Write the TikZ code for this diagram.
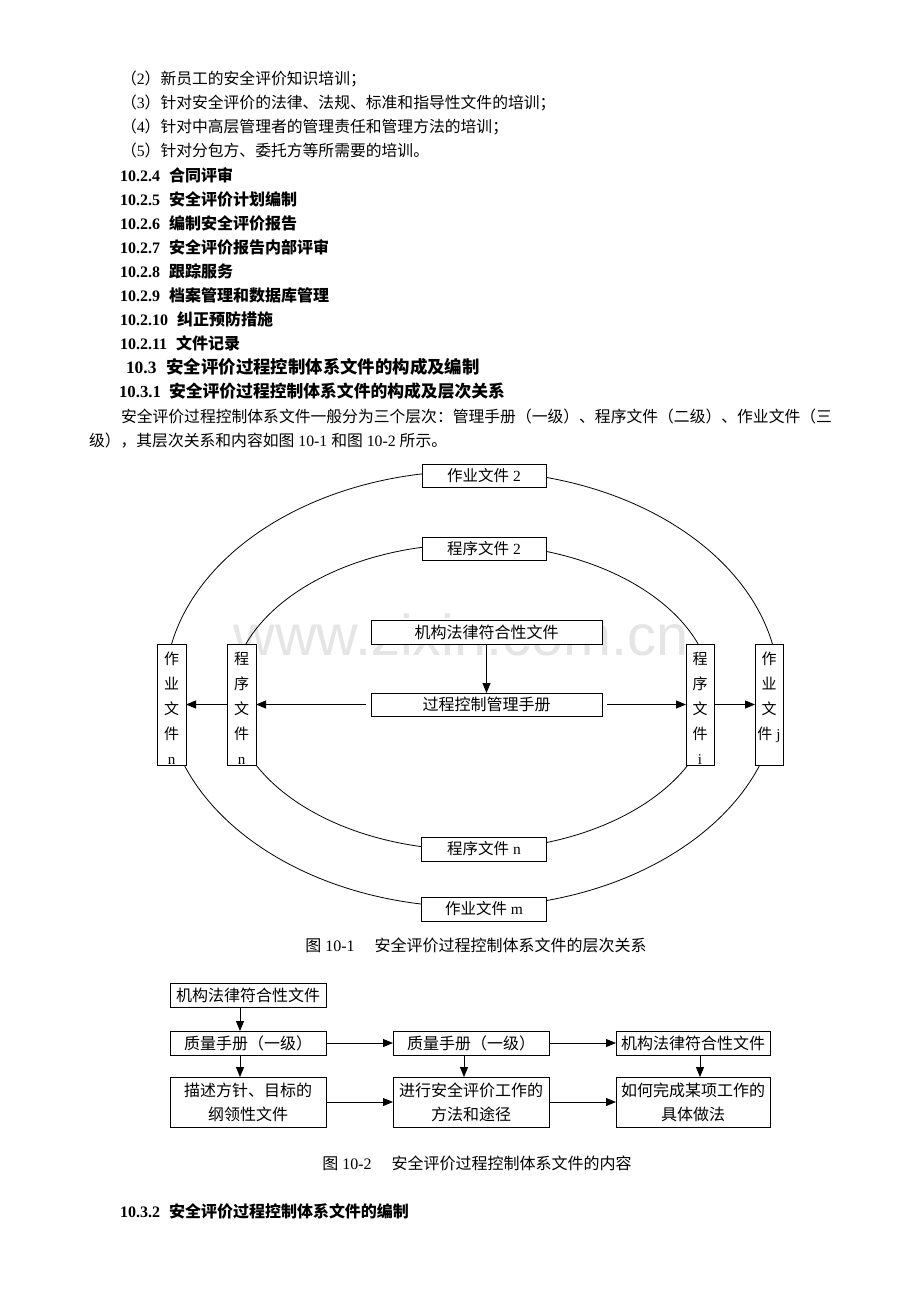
\documentclass[tikz,border=0pt]{standalone}
\usepackage{fontspec}
\setmainfont{Liberation Serif}
\newfontfamily\cjk{Noto Sans CJK SC}
\newfontfamily\wmfont{Liberation Sans}
\usetikzlibrary{arrows.meta}
\newcommand\C[1]{{\cjk #1}}
\newcommand\topstrut{\rule{0pt}{19.5pt}}
\begin{document}
\begin{tikzpicture}[x=1pt,y=-1pt,
  every node/.style={inner sep=0pt, outer sep=0pt},
  body/.style={anchor=base west, font=\fontsize{15.8}{18}\selectfont},
  head/.style={anchor=base west, font=\fontsize{16}{18}\selectfont\bfseries},
  bighead/.style={anchor=base west, font=\fontsize{17.4}{20}\selectfont\bfseries},
  box/.style={draw, fill=white, line width=0.8pt, font=\fontsize{15.5}{18}\selectfont, align=center},
  boxb/.style={draw, fill=white, line width=0.8pt, font=\fontsize{16}{24}\selectfont, align=center, minimum height=24pt},
  vbox/.style={draw, fill=white, line width=0.8pt, font=\fontsize{15}{25}\selectfont, align=center, minimum height=121pt},
  arr/.style={line width=0.9pt, -{Triangle[length=10pt,width=8pt]}},
  curve/.style={line width=0.8pt},
  caption/.style={anchor=base, font=\fontsize{16}{18}\selectfont}]
\useasboundingbox (0,0) rectangle (920,1302);
\fill[white] (0,0) rectangle (920,1302);

% ---- body text ----
\node[body] (l2) at (121,84) {\C{（}2\C{）新员工的安全评价知识培训；}};
\node[body] (l3) at (121,108) {\C{（}3\C{）针对安全评价的法律、法规、标准和指导性文件的培训；}};
\node[body] (l4) at (121,132) {\C{（}4\C{）针对中高层管理者的管理责任和管理方法的培训；}};
\node[body] (l5) at (121,156) {\C{（}5\C{）针对分包方、委托方等所需要的培训。}};
\node[head] (h4) at (120,181) {10.2.4\hspace{9pt}\C{合同评审}};
\node[head] (h5) at (120,205) {10.2.5\hspace{9pt}\C{安全评价计划编制}};
\node[head] (h6) at (120,229) {10.2.6\hspace{9pt}\C{编制安全评价报告}};
\node[head] (h7) at (120,253) {10.2.7\hspace{9pt}\C{安全评价报告内部评审}};
\node[head] (h8) at (120,277) {10.2.8\hspace{9pt}\C{跟踪服务}};
\node[head] (h9) at (120,301) {10.2.9\hspace{9pt}\C{档案管理和数据库管理}};
\node[head] (h10) at (120,325) {10.2.10\hspace{9pt}\C{纠正预防措施}};
\node[head] (h11) at (120,349) {10.2.11\hspace{9pt}\C{文件记录}};
\node[bighead] (h3) at (126,373.5) {10.3\hspace{10pt}\C{安全评价过程控制体系文件的构成及编制}};
\node[bighead, font=\fontsize{16.8}{20}\selectfont\bfseries] (h31) at (119,397.5) {10.3.1\hspace{8pt}\C{安全评价过程控制体系文件的构成及层次关系}};
\node[body] (p1) at (121,422) {\C{安全评价过程控制体系文件一般分为三个层次：管理手册（一级）、程序文件（二级）、作业文件（三}};
\node[body] (p2) at (89,446) {\C{级），其层次关系和内容如图} 10-1 \C{和图} 10-2 \C{所示。}};

% ---- figure 10-1 ----
\node[font=\wmfont\fontsize{57.6}{60}\selectfont, text=black!10, anchor=base] (wm) at (461,655) {www.zixin.com.cn};

\draw[curve] (472,689) ellipse [x radius=307pt, y radius=218pt];
\draw[curve] (472,697) ellipse [x radius=241pt, y radius=153pt];

\node[box, minimum width=124pt, minimum height=23pt] (zy2) at (484,475.5) {\C{作业文件} 2};
\node[box, minimum width=124pt, minimum height=23pt] (cx2) at (484,548.5) {\C{程序文件} 2};
\node[box, minimum width=231pt, minimum height=24pt, font=\fontsize{16}{18}\selectfont] (jg) at (486.5,632) {\C{机构法律符合性文件}};
\node[box, minimum width=231pt, minimum height=23pt, font=\fontsize{16}{18}\selectfont] (gc) at (486.5,704.5) {\C{过程控制管理手册}};
\node[box, minimum width=125pt, minimum height=24pt] (cxnb) at (484,849) {\C{程序文件} n};
\node[box, minimum width=125pt, minimum height=24pt] (zym) at (484,909) {\C{作业文件} m};

\node[vbox, minimum width=29pt] (zyn) at (171.5,704.5) {\topstrut\C{作}\\\C{业}\\\C{文}\\\C{件}\\n};
\node[vbox, minimum width=29pt] (cxn) at (241.5,704.5) {\topstrut\C{程}\\\C{序}\\\C{文}\\\C{件}\\n};
\node[vbox, minimum width=28pt] (cxi) at (700,704.5) {\topstrut\C{程}\\\C{序}\\\C{文}\\\C{件}\\i};
\node[vbox, minimum width=28pt] (zyj) at (769,704.5) {\topstrut\C{作}\\\C{业}\\\C{文}\\\C{件}\hspace{4pt}j\\\mbox{}};

\draw[arr] (jg.south) -- (gc.north);
\draw[arr] ([xshift=-5pt]gc.west) -- (cxn.east);
\draw[arr] ([xshift=5pt]gc.east) -- (cxi.west);
\draw[arr] (cxn.west) -- (zyn.east);
\draw[arr] (cxi.east) -- (zyj.west);

\node[caption] (cap1) at (476,951) {\C{图} 10-1\hspace{20pt}\C{安全评价过程控制体系文件的层次关系}};

% ---- figure 10-2 ----
\node[boxb, minimum width=156pt] (a1) at (248,995) {\C{机构法律符合性文件}};
\node[boxb, minimum width=156pt] (a2) at (248,1043) {\C{质量手册（一级）}};
\node[boxb, minimum width=156pt, minimum height=50pt] (a3) at (248,1102) {\C{描述方针、目标的}\\\C{纲领性文件}};
\node[boxb, minimum width=156pt] (b2) at (471,1043) {\C{质量手册（一级）}};
\node[boxb, minimum width=156pt, minimum height=50pt] (b3) at (471,1102) {\C{进行安全评价工作的}\\\C{方法和途径}};
\node[boxb, minimum width=154pt] (c2) at (693,1043) {\C{机构法律符合性文件}};
\node[boxb, minimum width=154pt, minimum height=50pt] (c3) at (693,1102) {\C{如何完成某项工作的}\\\C{具体做法}};

\draw[arr] ([xshift=-8pt]a1.south) -- ([xshift=-8pt]a2.north);
\draw[arr] ([xshift=-8pt]a2.south) -- ([xshift=-8pt]a3.north);
\draw[arr] ([xshift=-7pt]b2.south) -- ([xshift=-7pt]b3.north);
\draw[arr] ([xshift=7pt]c2.south) -- ([xshift=7pt]c3.north);
\draw[arr] (a2.east) -- (b2.west);
\draw[arr] (b2.east) -- (c2.west);
\draw[arr] (a3.east) -- (b3.west);
\draw[arr] (b3.east) -- (c3.west);

\node[caption] (cap2) at (477,1169) {\C{图} 10-2\hspace{20pt}\C{安全评价过程控制体系文件的内容}};

\node[head] (h32) at (120,1217) {10.3.2\hspace{9pt}\C{安全评价过程控制体系文件的编制}};
\end{tikzpicture}
\end{document}
